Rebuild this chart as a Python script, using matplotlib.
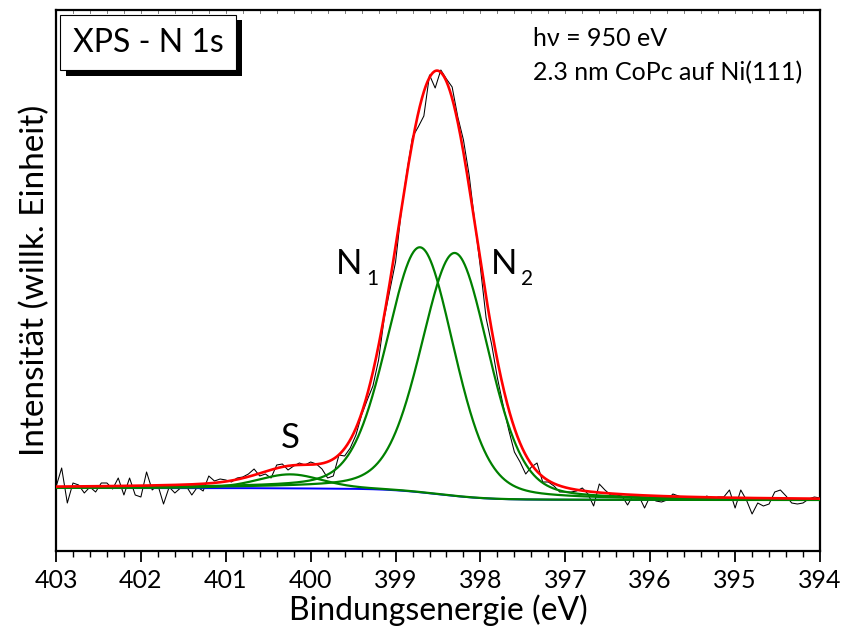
import numpy as np
import matplotlib.pyplot as plt
from matplotlib.patches import Rectangle
from matplotlib.ticker import MultipleLocator

# measured spectrum (arb. units), 136 points from 403 eV down to 394 eV
energy = np.linspace(403, 394, 136)
counts = [64, 83, 48, 68, 66, 58, 64, 59, 68, 68, 62, 73, 56, 73, 56, 54, 79, 61, 66, 47,
          64, 58, 63, 65, 56, 64, 60, 75, 70, 72, 71, 69, 73, 74, 77,
          82, 75, 77, 73, 86, 87, 81, 85, 88, 86, 89, 87, 82, 73, 75, 96, 95, 103, 116, 136, 151,
          165, 191, 233, 261, 289, 339, 379, 414, 424, 435, 476, 463, 481, 472, 464, 434, 411,
          376, 329, 283, 233, 206, 173, 146, 121,
          99, 89, 77, 84, 88, 69, 69, 65, 59, 59, 59, 60, 63, 57, 45, 67, 61, 56, 56, 55,
          46, 56, 55, 43, 55, 50, 49, 51, 57, 55, 53, 53, 53, 51, 55, 52, 54, 54, 61, 43,
          61, 51, 37, 48, 45, 47, 59, 61, 55, 48, 47, 48, 52, 54, 53]

# fit components (pseudo-Voigt): N1, N2, satellite S
peak_centers = [398.71, 398.30, 400.24]
peak_heights = [245, 243, 14]
peak_fwhm = [0.94, 0.94, 0.90]
lorentz_frac = 0.25
bg_high = 63   # background level on high binding energy side
bg_low = 51    # background level on low binding energy side


def pseudo_voigt(x, c, h, w, eta):
    g = np.exp(-4 * np.log(2) * ((x - c) / w) ** 2)
    l = 1 / (1 + 4 * ((x - c) / w) ** 2)
    return h * (eta * l + (1 - eta) * g)


xf = np.linspace(403, 394, 1801)
comps = [pseudo_voigt(xf, c, h, w, lorentz_frac)
         for c, h, w in zip(peak_centers, peak_heights, peak_fwhm)]
total = np.sum(comps, axis=0)

# Shirley-type step: integrate from low BE side (right end)
cum = np.cumsum(total[::-1])[::-1]
bg = bg_low + (bg_high - bg_low) * cum / cum[0]
envelope = bg + total

fig = plt.figure(figsize=(8.43, 6.28), dpi=100)
ax = fig.add_axes([56 / 843, 1 - 551 / 628, 764 / 843, 541 / 628])

ax.plot(energy, counts, color='black', lw=0.75, zorder=2)
ax.plot(xf, bg, color='#0000ff', lw=1.4, zorder=3)
for comp in comps:
    ax.plot(xf, bg + comp, color='#008000', lw=1.6, zorder=4)
ax.plot(xf, envelope, color='#ff0000', lw=1.9, zorder=5)

ax.set_xlim(403, 394)
ax.set_ylim(0, 541)
ax.xaxis.set_major_locator(MultipleLocator(1))
ax.xaxis.set_minor_locator(MultipleLocator(0.2))
ax.set_yticks([])
ax.tick_params(axis='x', which='major', direction='out', length=8, width=1.3,
               labelsize=18, pad=5, top=False)
ax.tick_params(axis='x', which='minor', direction='out', length=4, width=1.0, top=False)
for s in ax.spines.values():
    s.set_linewidth(1.6)
for lab in ax.get_xticklabels():
    lab.set_family('Lato')

# faint inward minor ticks along the top edge
for e in np.arange(403, 393.9, -0.2):
    ax.plot([e, e], [541, 538], color='0.4', lw=0.6, clip_on=False, zorder=1)

ax.set_xlabel('Bindungsenergie (eV)', fontsize=23, family='Lato', labelpad=2)
ax.set_ylabel('Intensität (willk. Einheit)', fontsize=24, family='Lato', labelpad=4)

# title box with shadow
fig.patches.append(Rectangle((66 / 843, 1 - 76 / 628), 176 / 843, 56 / 628,
                             transform=fig.transFigure, facecolor='black',
                             edgecolor='none', zorder=10))
fig.patches.append(Rectangle((60 / 843, 1 - 70 / 628), 176 / 843, 55 / 628,
                             transform=fig.transFigure, facecolor='white',
                             edgecolor='black', lw=0.8, zorder=11))
fig.text(148 / 843, 1 - 43 / 628, 'XPS - N 1s', fontsize=23, family='Lato',
         ha='center', va='center', zorder=12)

fig.text(533 / 843, 1 - 39 / 628, 'hν = 950 eV', fontsize=18, family='Lato',
         ha='left', va='center')
fig.text(533 / 843, 1 - 73 / 628, '2.3 nm CoPc auf Ni(111)', fontsize=18, family='Lato',
         ha='left', va='center')

ax.text(399.55, 287, 'N', fontsize=25, family='Lato', ha='center', va='center')
ax.text(399.27, 272, '1', fontsize=15, family='Lato', ha='center', va='center')
ax.text(397.72, 287, 'N', fontsize=25, family='Lato', ha='center', va='center')
ax.text(397.45, 272, '2', fontsize=15, family='Lato', ha='center', va='center')
ax.text(400.24, 113, 'S', fontsize=25, family='Lato', ha='center', va='center')

fig.savefig('out.png', dpi=100)
